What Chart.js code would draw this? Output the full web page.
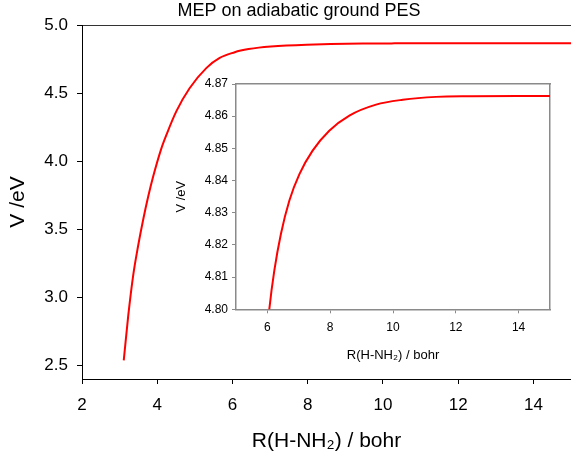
<!DOCTYPE html>
<html>
<head>
<meta charset="utf-8">
<script src="https://cdn.jsdelivr.net/npm/chart.js@4"></script>
<style>
  body { margin: 0; background: #fff; }
  #wrap { position: relative; width: 571px; height: 459px; }
  #main { position: absolute; left: 0; top: 0; }
  #inset { position: absolute; left: 170px; top: 70px; }
</style>
</head>
<body>
<div id="wrap">
  <canvas id="main" width="571" height="459"></canvas>
  <canvas id="inset" width="401" height="305"></canvas>
</div>
<script>
// MEP curve
const rBohr = [3.11, 3.23, 3.36, 3.49, 3.63, 3.76, 3.89, 4.10, 4.25, 4.51, 4.86, 5.31, 5.66, 6.06, 6.22, 6.43, 6.70, 7.02, 7.44, 7.97, 8.61, 9.46, 10.31, 11.37, 12.5, 14.0, 15.0];
const vEv = [2.537, 2.867, 3.160, 3.375, 3.575, 3.740, 3.885, 4.085, 4.197, 4.367, 4.535, 4.685, 4.758, 4.800, 4.812, 4.8234, 4.8338, 4.842, 4.8493, 4.8555, 4.8602, 4.8636, 4.8651, 4.8660, 4.8662, 4.8663, 4.8663];

// tick labels
const mainXTicks = [2, 4, 6, 8, 10, 12, 14];
const mainYTicks = [2.5, 3.0, 3.5, 4.0, 4.5, 5.0];
const insetXTicks = [6, 8, 10, 12, 14];
const insetYTicks = [4.80, 4.81, 4.82, 4.83, 4.84, 4.85, 4.86, 4.87];

const titleText = 'MEP on adiabatic ground PES';
const xTitle = 'R(H-NH\u2082) / bohr';
const yTitle = 'V /eV';

const FONT = "'Liberation Sans', Arial, sans-serif";
const points = rBohr.map((r, i) => ({ x: r, y: vEv[i] }));

function fixedTicks(list) {
  return function (scale) {
    scale.ticks = list.map(v => ({ value: v }));
  };
}

// draws the plot title above the main chart
const titlePlugin = {
  id: 'plotTitle',
  afterDraw(chart) {
    const ctx = chart.ctx;
    ctx.save();
    ctx.font = '18px ' + FONT;
    ctx.fillStyle = '#000';
    ctx.textAlign = 'center';
    ctx.textBaseline = 'middle';
    ctx.fillText(titleText, 299, 11);
    ctx.restore();
  }
};

Chart.defaults.font.family = FONT;
Chart.defaults.color = '#000';

new Chart(document.getElementById('main'), {
  type: 'line',
  data: {
    datasets: [{
      data: points,
      borderColor: '#ff0000',
      borderWidth: 2,
      pointRadius: 0,
      cubicInterpolationMode: 'monotone'
    }]
  },
  options: {
    responsive: false,
    animation: false,
    layout: { padding: { top: 25, left: 0, right: 0, bottom: 0 } },
    plugins: { legend: { display: false }, tooltip: { enabled: false } },
    scales: {
      x: {
        type: 'linear',
        min: 2, max: 15,
        afterBuildTicks: fixedTicks(mainXTicks),
        afterFit(scale) { scale.height = 80; },
        border: { color: '#000', width: 1 },
        grid: { drawOnChartArea: false, tickLength: 5, tickColor: '#000' },
        ticks: { font: { size: 17 }, padding: 11, maxRotation: 0 },
        title: { display: true, text: xTitle, font: { size: 21 }, padding: { top: 0, bottom: 5 } }
      },
      xTop: {
        type: 'linear',
        position: 'top',
        min: 2, max: 15,
        afterFit(scale) { scale.height = 0; },
        border: { color: '#333', width: 1 },
        grid: { display: true, drawOnChartArea: false, drawTicks: false },
        ticks: { display: false }
      },
      y: {
        min: 2.4, max: 5.0,
        afterBuildTicks: fixedTicks(mainYTicks),
        afterFit(scale) { scale.width = 82; },
        border: { color: '#000', width: 1 },
        grid: { drawOnChartArea: false, tickLength: 5, tickColor: '#000' },
        ticks: { font: { size: 17 }, padding: 9, callback: v => v.toFixed(1) },
        title: { display: true, text: yTitle, font: { size: 21 }, padding: { top: 6, bottom: 0 } }
      }
    }
  },
  plugins: [titlePlugin]
});

// inset: zoom on the asymptotic region
const boxColor = '#8a8a8a';
new Chart(document.getElementById('inset'), {
  type: 'line',
  data: {
    datasets: [{
      data: points,
      borderColor: '#ff0000',
      borderWidth: 2,
      pointRadius: 0,
      cubicInterpolationMode: 'monotone'
    }]
  },
  options: {
    responsive: false,
    animation: false,
    layout: { padding: { top: 14, left: 0, right: 21, bottom: 0 } },
    plugins: { legend: { display: false }, tooltip: { enabled: false } },
    scales: {
      x: {
        type: 'linear',
        min: 5, max: 15,
        afterBuildTicks: fixedTicks(insetXTicks),
        afterFit(scale) { scale.height = 65.7; },
        border: { color: boxColor, width: 1.5 },
        grid: { drawOnChartArea: false, tickLength: 4, tickColor: boxColor },
        ticks: { font: { size: 12 }, padding: 7, maxRotation: 0 },
        title: { display: true, text: xTitle, font: { size: 13 }, padding: { top: 0, bottom: 12 } }
      },
      xTop: {
        type: 'linear',
        position: 'top',
        min: 5, max: 15,
        afterFit(scale) { scale.height = 0; },
        border: { color: boxColor, width: 1.5 },
        grid: { display: true, drawOnChartArea: false, drawTicks: false },
        ticks: { display: false }
      },
      y: {
        min: 4.80, max: 4.87,
        afterBuildTicks: fixedTicks(insetYTicks),
        afterFit(scale) { scale.width = 66; },
        border: { color: boxColor, width: 1.5 },
        grid: { drawOnChartArea: false, tickLength: 4, tickColor: boxColor },
        ticks: { font: { size: 12 }, padding: 4, callback: v => v.toFixed(2) },
        title: { display: true, text: yTitle, font: { size: 13 }, padding: { top: 4, bottom: 0 } }
      },
      yRight: {
        position: 'right',
        min: 4.80, max: 4.87,
        afterFit(scale) { scale.width = 0; },
        border: { color: boxColor, width: 1.5 },
        grid: { display: true, drawOnChartArea: false, drawTicks: false },
        ticks: { display: false }
      }
    }
  }
});
</script>
</body>
</html>
